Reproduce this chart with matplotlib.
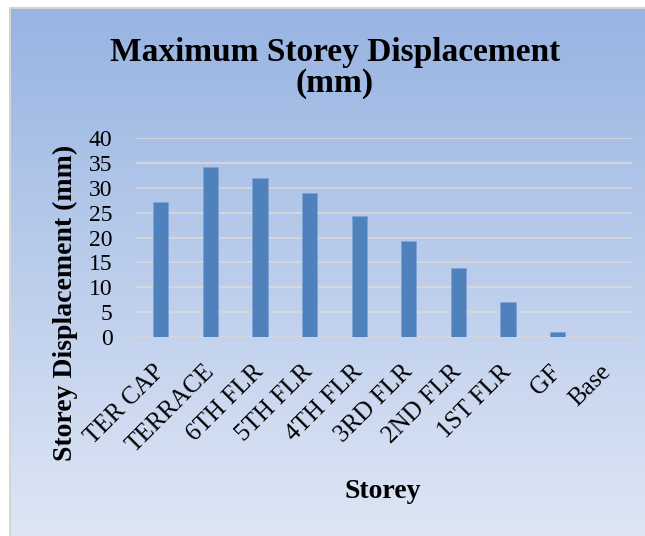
import numpy as np
import matplotlib
matplotlib.use("Agg")
import matplotlib.pyplot as plt
from matplotlib.patches import Rectangle

# Data
storeys = ["TER CAP", "TERRACE", "6TH FLR", "5TH FLR", "4TH FLR",
           "3RD FLR", "2ND FLR", "1ST FLR", "GF", "Base"]
displacement = [27.2, 34.3, 32.0, 28.9, 24.3, 19.3, 13.8, 6.9, 0.9, 0.0]
y_ticks = [0, 5, 10, 15, 20, 25, 30, 35, 40]

title_text = "Maximum Storey Displacement\n(mm)"
x_title = "Storey"
y_title = "Storey Displacement (mm)"

plt.rcParams["font.family"] = ["Liberation Serif", "DejaVu Serif"]

W, H = 645, 536
fig = plt.figure(figsize=(W / 100, H / 100), dpi=100)
fig.patch.set_facecolor("white")

# Chart area with vertical gradient fill
bg_left, bg_top = 11, 9
bg = fig.add_axes([bg_left / W, 0, 1 - bg_left / W, 1 - bg_top / H])
top_rgb = np.array([152, 180, 226]) / 255
bot_rgb = np.array([222, 230, 245]) / 255
t = np.linspace(0, 1, 256)[:, None]
grad = top_rgb[None, :] * (1 - t) + bot_rgb[None, :] * t
bg.imshow(grad[:, None, :], aspect="auto", extent=[0, 1, 0, 1], origin="upper")
bg.set_xlim(0, 1)
bg.set_ylim(0, 1)
bg.axis("off")

# Thin grey frame on the left and top edges
fig.add_artist(Rectangle((bg_left / W - 2 / W, 0), 2 / W, 1 - bg_top / H + 2 / H,
                         transform=fig.transFigure, color="#d4d4d4", lw=0))
fig.add_artist(Rectangle((bg_left / W - 2 / W, 1 - bg_top / H), 1, 2 / H,
                         transform=fig.transFigure, color="#d4d4d4", lw=0))

# Plot area
px_left, px_right = 136, 632
px_top, px_bottom = 138.4, 336.7
ax = fig.add_axes([px_left / W, 1 - px_bottom / H,
                   (px_right - px_left) / W, (px_bottom - px_top) / H])
ax.set_facecolor("none")

x = np.arange(len(storeys))
ax.bar(x, displacement, width=0.31, color="#4f81bd",
       edgecolor="#7fa2d4", linewidth=0.6, zorder=3)

ax.set_xlim(-0.5, len(storeys) - 0.5)
ax.set_ylim(0, 40)
ax.set_yticks(y_ticks)
ax.yaxis.grid(True, color="#d9d9d9", linewidth=1.2, zorder=0)
ax.set_axisbelow(True)
for s in ax.spines.values():
    s.set_visible(False)

ax.tick_params(axis="y", length=0, pad=17, labelsize=17)
ax.tick_params(axis="x", length=0, pad=23, labelsize=18)
ax.set_xticks(x)
ax.set_xticklabels(storeys, rotation=45, ha="right", va="center",
                   rotation_mode="anchor")

# Titles
fig.text(335 / W, 1 - 68 / H, title_text, ha="center", va="center",
         fontsize=24, fontweight="bold", linespacing=1.0)
fig.text(383 / W, 1 - 492 / H, x_title, ha="center", va="center",
         fontsize=20, fontweight="bold")
fig.text(65 / W, 1 - 303 / H, y_title, ha="center", va="center",
         rotation=90, fontsize=20, fontweight="bold")

fig.savefig("out.png", dpi=100)
